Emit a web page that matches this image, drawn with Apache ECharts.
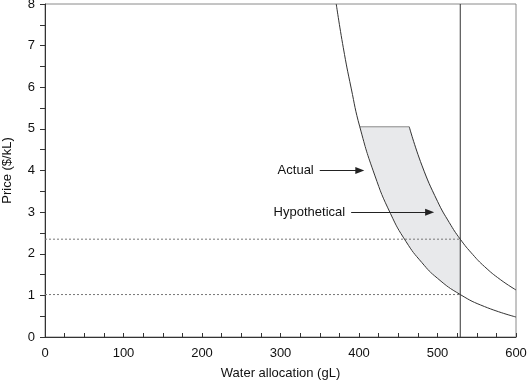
<!DOCTYPE html>
<html>
<head>
<meta charset="utf-8">
<script src="https://cdn.jsdelivr.net/npm/echarts@6/dist/echarts.min.js"></script>
<style>html,body{margin:0;padding:0;background:#fff}#c{width:527px;height:381px}</style>
</head>
<body>
<div id="c"></div>
<script>
// Data
const actualX = [371, 380, 390, 401, 420, 440, 460, 480, 500, 529, 560, 600];
const actualY = [8.0, 6.95, 5.98, 5.05, 3.89, 2.97, 2.29, 1.79, 1.41, 1.02, 0.73, 0.48];
const hypoX = [464, 480, 500, 515, 529, 545, 560, 580, 600];
const hypoY = [5.05, 4.13, 3.26, 2.75, 2.35, 1.98, 1.69, 1.38, 1.13];
const allocation = 529;
const actualPrice = 1.02;
const hypoPrice = 2.35;
const shadeTop = 5.05;
const shadeLeft = 401;
const shadeRight = 464;
const xTicks = [0, 100, 200, 300, 400, 500, 600];
const yTicks = [0, 1, 2, 3, 4, 5, 6, 7, 8];
const annotActual = {text: 'Actual', from: [350, 4.0], to: [401, 4.0]};
const annotHypo = {text: 'Hypothetical', from: [390, 3.0], to: [490, 3.0]};

const FONT = "'Liberation Sans', Arial, Helvetica, sans-serif";
const pair = (xs, ys) => xs.map((x, i) => [x, ys[i]]);
const actualData = pair(actualX, actualY);
const hypoData = pair(hypoX, hypoY);

// shaded polygon vertices (data space)
const shadePoly = [];
shadePoly.push([shadeLeft, shadeTop]);
hypoData.filter(p => p[0] <= allocation).forEach(p => shadePoly.push(p));
shadePoly.push([allocation, actualPrice]);
actualData.filter(p => p[0] > shadeLeft && p[0] < allocation).reverse().forEach(p => shadePoly.push(p));

const chart = echarts.init(document.getElementById('c'), null, {renderer: 'canvas'});
const arrowLine = (a) => ({
  type: 'line', data: [], silent: true,
  markLine: {
    silent: true, animation: false,
    symbol: ['none', 'triangle'], symbolSize: [7, 9],
    lineStyle: {color: '#222', width: 1, type: 'solid'},
    label: {show: true, position: 'start', formatter: a.text, distance: 6,
      color: '#111', fontSize: 13, fontFamily: FONT},
    data: [[{coord: a.from}, {coord: a.to}]]
  }
});

chart.setOption({
  animation: false,
  grid: {left: 45, right: 11, top: 4, bottom: 44, containLabel: false, outerBoundsMode: 'none',
    show: true, borderColor: '#8a8a8a', borderWidth: 1},
  xAxis: {
    type: 'value', min: xTicks[0], max: xTicks[xTicks.length - 1], interval: 100,
    name: 'Water allocation (gL)', nameLocation: 'middle', nameGap: 30,
    nameTextStyle: {color: '#111', fontSize: 13, fontFamily: FONT},
    axisLine: {lineStyle: {color: '#333', width: 1}},
    axisTick: {inside: true, length: 4, lineStyle: {color: '#333'}},
    minorTick: {show: true, splitNumber: 4, length: 4, lineStyle: {color: '#333'}},
    axisLabel: {color: '#111', fontSize: 13, fontFamily: FONT, margin: 10},
    splitLine: {show: false}
  },
  yAxis: {
    type: 'value', min: yTicks[0], max: yTicks[yTicks.length - 1], interval: 1,
    name: 'Price ($/kL)', nameLocation: 'middle', nameGap: 31,
    nameTextStyle: {color: '#111', fontSize: 13, fontFamily: FONT},
    axisLine: {show: true, lineStyle: {color: '#333', width: 1}},
    axisTick: {show: true, inside: false, length: 5, lineStyle: {color: '#333'}},
    minorTick: {show: true, splitNumber: 2, length: 5, lineStyle: {color: '#333'}},
    axisLabel: {color: '#111', fontSize: 13, fontFamily: FONT, margin: 10},
    splitLine: {show: false}
  },
  series: [
    {
      type: 'custom', silent: true, z: 1,
      data: [[0, 0]],
      renderItem: function (params, api) {
        const pts = shadePoly.map(p => api.coord(p));
        return {type: 'polygon', shape: {points: pts}, style: {fill: '#e8e9eb', stroke: null}};
      }
    },
    {type: 'line', data: [[0, hypoPrice], [allocation, hypoPrice]], showSymbol: false, z: 2,
      lineStyle: {color: '#777', width: 1, type: [2, 2]}},
    {type: 'line', data: [[0, actualPrice], [allocation, actualPrice]], showSymbol: false, z: 2,
      lineStyle: {color: '#777', width: 1, type: [2, 2]}},
    {type: 'line', data: [[shadeLeft, shadeTop], [shadeRight, shadeTop]], showSymbol: false, z: 3,
      lineStyle: {color: '#8a8a8a', width: 1}},
    {type: 'line', data: [[allocation, 0], [allocation, 8]], showSymbol: false, z: 3,
      lineStyle: {color: '#333', width: 1}},
    {type: 'line', data: actualData, smooth: true, showSymbol: false, z: 4,
      lineStyle: {color: '#333', width: 1}},
    {type: 'line', data: hypoData, smooth: true, showSymbol: false, z: 4,
      lineStyle: {color: '#333', width: 1}},
    arrowLine(annotActual),
    arrowLine(annotHypo)
  ]
});
</script>
</body>
</html>
